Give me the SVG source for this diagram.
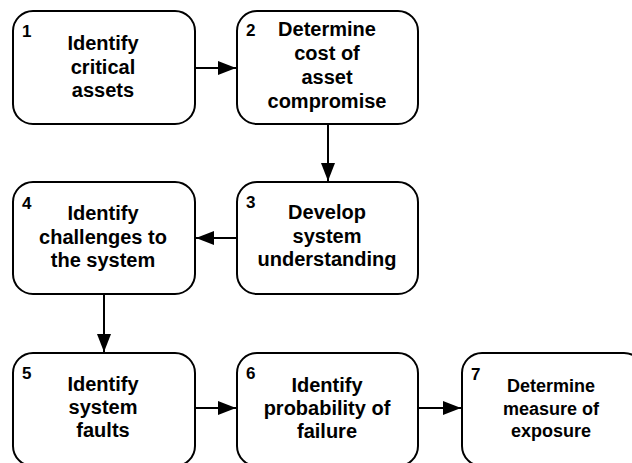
<svg xmlns="http://www.w3.org/2000/svg" width="632" height="463" viewBox="0 0 632 463">
<defs>
<style>
.box{fill:#fff;stroke:#000;stroke-width:2}
.num{font-family:"Liberation Sans",Arial,sans-serif;font-weight:bold;font-size:17px;fill:#000}
.lbl{font-family:"Liberation Sans",Arial,sans-serif;font-weight:bold;font-size:20px;fill:#000;text-anchor:middle}
.lbl7{font-family:"Liberation Sans",Arial,sans-serif;font-weight:bold;font-size:18px;fill:#000;text-anchor:middle}
.edge{fill:none;stroke:#000;stroke-width:2;marker-end:url(#arr)}
</style>
<marker id="arr" markerUnits="userSpaceOnUse" markerWidth="18" markerHeight="14" refX="18" refY="7" orient="auto">
<path d="M0,0 L18,7 L0,14 z" fill="#000"/>
</marker>
</defs>
<rect width="632" height="463" fill="#fff"/>
<g id="connectors">
<path class="edge" d="M195,68 L236,68"/>
<path class="edge" d="M328,124 L328,181"/>
<path class="edge" d="M237,238 L196,238"/>
<path class="edge" d="M104,294 L104,352"/>
<path class="edge" d="M195,408 L236,408"/>
<path class="edge" d="M418,408 L461,408"/>
</g>
<g id="node1">
<rect class="box" x="13" y="11" width="182" height="113" rx="20"/>
<text class="num" x="22" y="37">1</text>
<text class="lbl" x="103" y="50">Identify</text>
<text class="lbl" x="103" y="73.5">critical</text>
<text class="lbl" x="103" y="97">assets</text>
</g>
<g id="node2">
<rect class="box" x="237" y="11" width="181" height="113" rx="20"/>
<text class="num" x="246" y="36">2</text>
<text class="lbl" x="327" y="36">Determine</text>
<text class="lbl" x="327" y="60">cost of</text>
<text class="lbl" x="327" y="84">asset</text>
<text class="lbl" x="327" y="108">compromise</text>
</g>
<g id="node3">
<rect class="box" x="237" y="182" width="181" height="112" rx="20"/>
<text class="num" x="246" y="208">3</text>
<text class="lbl" x="327" y="219">Develop</text>
<text class="lbl" x="327" y="242.5">system</text>
<text class="lbl" x="327" y="266">understanding</text>
</g>
<g id="node4">
<rect class="box" x="13" y="182" width="182" height="112" rx="20"/>
<text class="num" x="22" y="209">4</text>
<text class="lbl" x="103" y="220">Identify</text>
<text class="lbl" x="103" y="243.5">challenges to</text>
<text class="lbl" x="103" y="267">the system</text>
</g>
<g id="node5">
<rect class="box" x="13" y="353" width="182" height="113" rx="20"/>
<text class="num" x="22" y="379">5</text>
<text class="lbl" x="103" y="391">Identify</text>
<text class="lbl" x="103" y="414">system</text>
<text class="lbl" x="103" y="437">faults</text>
</g>
<g id="node6">
<rect class="box" x="237" y="353" width="181" height="113" rx="20"/>
<text class="num" x="246" y="379">6</text>
<text class="lbl" x="327" y="392">Identify</text>
<text class="lbl" x="327" y="415">probability of</text>
<text class="lbl" x="327" y="438">failure</text>
</g>
<g id="node7">
<rect class="box" x="462" y="353" width="182" height="113" rx="20"/>
<text class="num" x="471" y="380">7</text>
<text class="lbl7" x="551" y="392">Determine</text>
<text class="lbl7" x="551" y="415">measure of</text>
<text class="lbl7" x="551" y="437">exposure</text>
</g>
</svg>
